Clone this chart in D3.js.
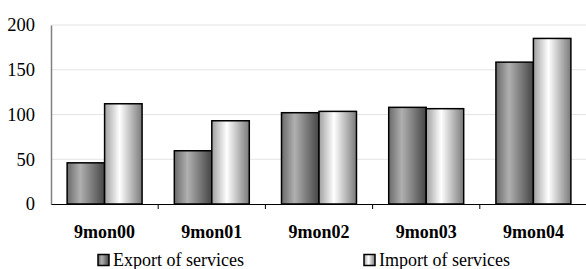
<!DOCTYPE html>
<html>
<head>
<meta charset="utf-8">
<script src="https://cdn.jsdelivr.net/npm/d3@7"></script>
<style>
  body { margin: 0; background: #fff; }
</style>
</head>
<body>
<svg id="chart"></svg>
<script>
const categories = ['9mon00', '9mon01', '9mon02', '9mon03', '9mon04']
const exportValues = [46, 59.5, 102, 108, 158.5]
const importValues = [112, 93, 103.5, 106.5, 185]
const yTicks = [0, 50, 100, 150, 200]
const seriesNames = ['Export of services', 'Import of services']

const FONT = '"Liberation Serif", "Times New Roman", serif'
const width = 586
const height = 269
const margin = { top: 25, right: -1, bottom: 65, left: 51 }

const svg = d3.select('#chart')
  .attr('width', width)
  .attr('height', height)

const defs = svg.append('defs')
// 两种柱子的横向渐变
const gradients = [
  { id: 'gExport', stops: [['0%', '#6a6a6a'], ['35%', '#b0b0b0'], ['100%', '#454545']] },
  { id: 'gImport', stops: [['0%', '#a0a0a0'], ['40%', '#ffffff'], ['100%', '#7a7a7a']] }
]
gradients.forEach(g => {
  const lg = defs.append('linearGradient')
    .attr('id', g.id)
    .attr('x1', '0%').attr('x2', '100%')
    .attr('y1', '0%').attr('y2', '0%')
  g.stops.forEach(s => lg.append('stop').attr('offset', s[0]).attr('stop-color', s[1]))
})

const x = d3.scaleBand()
  .domain(categories)
  .range([margin.left, width - margin.right])

const x1 = d3.scaleBand()
  .domain([0, 1])
  .range([0, x.bandwidth()])
  .paddingOuter(0.43)

const y = d3.scaleLinear()
  .domain([0, 200])
  .range([height - margin.bottom, margin.top])

// 网格线
svg.append('g')
  .selectAll('line')
  .data(yTicks.filter(d => d > 0))
  .enter().append('line')
  .attr('x1', margin.left)
  .attr('x2', width)
  .attr('y1', d => y(d))
  .attr('y2', d => y(d))
  .attr('stroke', '#e4e4e4')
  .attr('stroke-width', 1)

// y 轴
const yAxis = svg.append('g')
  .attr('transform', `translate(${margin.left},0)`)
  .call(d3.axisLeft(y).tickValues(yTicks).tickSize(0).tickPadding(16))
yAxis.select('.domain').attr('stroke', '#808080').attr('stroke-width', 1.5)
yAxis.selectAll('text')
  .style('font-family', FONT)
  .style('font-size', '18.5px')
  .attr('fill', '#000')

// 柱子
const series = [exportValues, importValues]
const groups = svg.append('g')
  .selectAll('g')
  .data(categories)
  .enter().append('g')
  .attr('transform', d => `translate(${x(d)},0)`)

groups.selectAll('rect')
  .data((d, i) => series.map((s, k) => ({ k, v: s[i] })))
  .enter().append('rect')
  .attr('x', d => x1(d.k))
  .attr('width', x1.bandwidth())
  .attr('y', d => y(d.v))
  .attr('height', d => y(0) - y(d.v))
  .attr('fill', d => d.k === 0 ? 'url(#gExport)' : 'url(#gImport)')
  .attr('stroke', '#000')
  .attr('stroke-width', 1.5)

// x 轴
const xAxis = svg.append('g')
  .attr('transform', `translate(0,${y(0)})`)
  .call(d3.axisBottom(x).tickSize(0).tickPadding(21))
xAxis.select('.domain').attr('stroke', '#000').attr('stroke-width', 1.2)
xAxis.selectAll('text')
  .style('font-family', FONT)
  .style('font-size', '18px')
  .style('font-weight', 'bold')
  .attr('fill', '#000')

// 分类之间的刻度线
svg.append('g')
  .selectAll('line')
  .data(categories.slice(1))
  .enter().append('line')
  .attr('x1', d => x(d))
  .attr('x2', d => x(d))
  .attr('y1', y(0))
  .attr('y2', y(0) + 5)
  .attr('stroke', '#000')
  .attr('stroke-width', 1)

// 图例
const legendX = [98, 364]
const legend = svg.append('g')
  .selectAll('g')
  .data(seriesNames)
  .enter().append('g')
  .attr('transform', (d, i) => `translate(${legendX[i]},${height - 3})`)

legend.append('rect')
  .attr('x', 0)
  .attr('y', -11.5)
  .attr('width', 11)
  .attr('height', 11)
  .attr('fill', (d, i) => i === 0 ? 'url(#gExport)' : 'url(#gImport)')
  .attr('stroke', '#000')
  .attr('stroke-width', 1.5)

legend.append('text')
  .attr('x', 15)
  .attr('y', 0)
  .style('font-family', FONT)
  .style('font-size', '18px')
  .attr('fill', '#000')
  .text(d => d)
</script>
</body>
</html>
